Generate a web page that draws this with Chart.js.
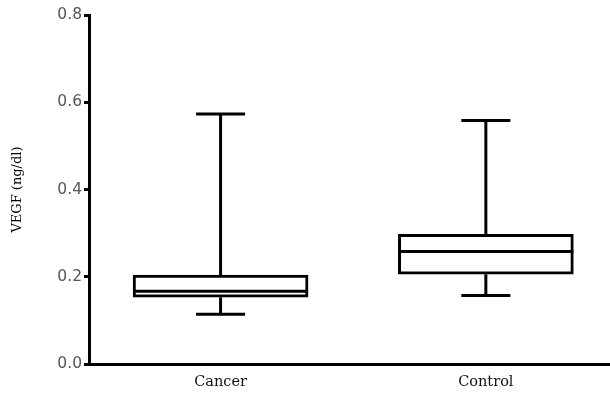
<!DOCTYPE html>
<html>
<head>
<meta charset="utf-8">
<script src="https://cdn.jsdelivr.net/npm/chart.js@4.4.1/dist/chart.umd.min.js"></script>
<style>
  html, body { margin: 0; padding: 0; background: #fff; }
  #wrap { width: 610px; height: 399px; position: relative; }
</style>
</head>
<body>
<div id="wrap"><canvas id="c"></canvas></div>
<script>
// Box plot summary per group: whisker ends, quartiles, median (ng/dl)
const categories = ['Cancer', 'Control'];
const minValues = [0.114, 0.157];
const q1Values = [0.153, 0.206];
const medianValues = [0.167, 0.258];
const q3Values = [0.204, 0.297];
const maxValues = [0.573, 0.558];
const yTicks = [0.0, 0.2, 0.4, 0.6, 0.8];

const positions = categories.map((_, i) => i + 1);

// Whiskers, caps and median lines drawn on top of the floating-bar boxes
const whiskerPlugin = {
  id: 'whiskers',
  afterDatasetsDraw(chart) {
    const ctx = chart.ctx;
    const xs = chart.scales.x;
    const ys = chart.scales.y;
    const capHalf = 24.5;
    const boxHalf = 87.5;
    ctx.save();
    ctx.strokeStyle = '#000';
    ctx.lineWidth = 3;
    ctx.lineCap = 'butt';
    positions.forEach((p, i) => {
      const x = xs.getPixelForValue(p);
      const yMin = ys.getPixelForValue(minValues[i]);
      const yQ1 = ys.getPixelForValue(q1Values[i]);
      const yMed = ys.getPixelForValue(medianValues[i]);
      const yQ3 = ys.getPixelForValue(q3Values[i]);
      const yMax = ys.getPixelForValue(maxValues[i]);
      ctx.beginPath();
      // upper whisker + cap
      ctx.moveTo(x, yQ3); ctx.lineTo(x, yMax);
      ctx.moveTo(x - capHalf, yMax); ctx.lineTo(x + capHalf, yMax);
      // lower whisker + cap
      ctx.moveTo(x, yQ1); ctx.lineTo(x, yMin);
      ctx.moveTo(x - capHalf, yMin); ctx.lineTo(x + capHalf, yMin);
      // median
      ctx.moveTo(x - boxHalf, yMed); ctx.lineTo(x + boxHalf, yMed);
      ctx.stroke();
    });
    ctx.restore();
  }
};

new Chart(document.getElementById('c'), {
  type: 'bar',
  data: {
    datasets: [{
      data: positions.map((p, i) => ({ x: p, y: [q1Values[i], q3Values[i]] })),
      backgroundColor: '#fff',
      borderColor: '#000',
      borderWidth: 3,
      borderSkipped: false,
      barThickness: 175
    }]
  },
  options: {
    responsive: true,
    maintainAspectRatio: false,
    animation: false,
    layout: { padding: { top: 15, right: 0, bottom: 0, left: 0 } },
    plugins: { legend: { display: false }, tooltip: { enabled: false } },
    scales: {
      x: {
        type: 'linear',
        offset: false,
        min: 0.504,
        max: 2.468,
        afterBuildTicks(scale) { scale.ticks = positions.map(v => ({ value: v })); },
        afterFit(scale) { scale.height = 35; },
        grid: { display: false, drawTicks: false, offset: false },
        border: { display: true, color: '#000', width: 3 },
        ticks: {
          padding: 10,
          color: '#111',
          font: { family: 'DejaVu Serif', size: 14.5 },
          callback: v => categories[v - 1] ?? ''
        }
      },
      y: {
        min: 0,
        max: 0.8,
        afterBuildTicks(scale) { scale.ticks = yTicks.map(v => ({ value: v })); },
        afterFit(scale) { scale.width = 89; },
        grid: {
          drawOnChartArea: false,
          drawTicks: true,
          tickLength: 5,
          tickWidth: 3,
          tickColor: '#000'
        },
        border: { display: true, color: '#000', width: 3 },
        ticks: {
          padding: 2,
          color: '#555',
          font: { family: 'DejaVu Sans', size: 15.5 },
          callback: v => Number(v).toFixed(1)
        },
        title: {
          display: true,
          text: 'VEGF (ng/dl)',
          color: '#000',
          padding: { top: 10, bottom: 0 },
          font: { family: 'DejaVu Serif', size: 13 }
        }
      }
    }
  },
  plugins: [whiskerPlugin]
});
</script>
</body>
</html>
